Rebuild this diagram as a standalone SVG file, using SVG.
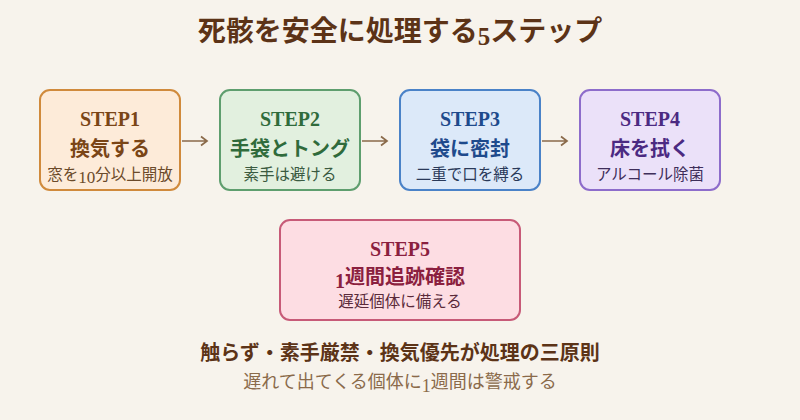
<svg xmlns="http://www.w3.org/2000/svg" width="800" height="420" viewBox="0 0 800 420">
<defs>
<style>
.bg{fill:#f7f3ec}
text{font-family:'Liberation Serif','Noto Sans CJK JP',serif;text-anchor:middle}
.title{font-size:28px;font-weight:bold;fill:#5c3317}
.step{font-size:20px;font-weight:bold}
.main{font-size:20px;font-weight:bold}
.sub{font-size:15.5px}
.box{stroke-width:2}
.arrow{fill:none;stroke:#8a6a4a;stroke-width:1.7}
.sum1{font-size:20px;font-weight:bold;fill:#5c3317}
.sum2{font-size:18px;fill:#8a6a4a}
</style>
</defs>
<rect class="bg" x="0" y="0" width="800" height="420"/>
<text class="title" x="400" y="41">死骸を安全に処理する<tspan dy="4" font-size="25">5</tspan><tspan dy="-4">ステップ</tspan></text>

<g id="step1">
<rect class="box" x="40" y="90" width="140" height="100" rx="10" fill="#fdebd9" stroke="#d08a3c"/>
<text class="step" x="110" y="126" fill="#7a4516">STEP1</text>
<text class="main" x="110" y="156" fill="#7a4516">換気する</text>
<text class="sub" x="110" y="180" fill="#6b4a2a">窓を<tspan dy="3" font-size="17">10</tspan><tspan dy="-3">分以上開放</tspan></text>
</g>
<g id="step2">
<rect class="box" x="220" y="90" width="140" height="100" rx="10" fill="#e2f0df" stroke="#5e9e6e"/>
<text class="step" x="290" y="126" fill="#2f6b3b">STEP2</text>
<text class="main" x="290" y="156" fill="#2f6b3b">手袋とトング</text>
<text class="sub" x="290" y="180" fill="#3a5a40">素手は避ける</text>
</g>
<g id="step3">
<rect class="box" x="400" y="90" width="140" height="100" rx="10" fill="#dce9f9" stroke="#4a82c8"/>
<text class="step" x="470" y="126" fill="#1e4a8c">STEP3</text>
<text class="main" x="470" y="156" fill="#1e4a8c">袋に密封</text>
<text class="sub" x="470" y="180" fill="#2a3a5a">二重で口を縛る</text>
</g>
<g id="step4">
<rect class="box" x="580" y="90" width="140" height="100" rx="10" fill="#ebe1f9" stroke="#8d6ccb"/>
<text class="step" x="650" y="126" fill="#4b2a82">STEP4</text>
<text class="main" x="650" y="156" fill="#4b2a82">床を拭く</text>
<text class="sub" x="650" y="180" fill="#3e2e5a">アルコール除菌</text>
</g>
<g id="step5">
<rect class="box" x="280" y="220" width="240" height="100" rx="10" fill="#fddde3" stroke="#c75a78"/>
<text class="step" x="400" y="256" fill="#8b1f3f">STEP5</text>
<text class="main" x="400" y="284" fill="#8b1f3f"><tspan dy="4">1</tspan><tspan dy="-4">週間追跡確認</tspan></text>
<text class="sub" x="400" y="307" fill="#5a2a3a">遅延個体に備える</text>
</g>

<g id="connectors">
<path class="arrow" d="M182 141H207M201 136.5L207 141L201 145.5"/>
<path class="arrow" d="M362 141H387M381 136.5L387 141L381 145.5"/>
<path class="arrow" d="M542 141H567M561 136.5L567 141L561 145.5"/>
</g>

<text class="sum1" x="400" y="360">触らず・素手厳禁・換気優先が処理の三原則</text>
<text class="sum2" x="400" y="388">遅れて出てくる個体に<tspan dy="4">1</tspan><tspan dy="-4">週間は警戒する</tspan></text>
</svg>
